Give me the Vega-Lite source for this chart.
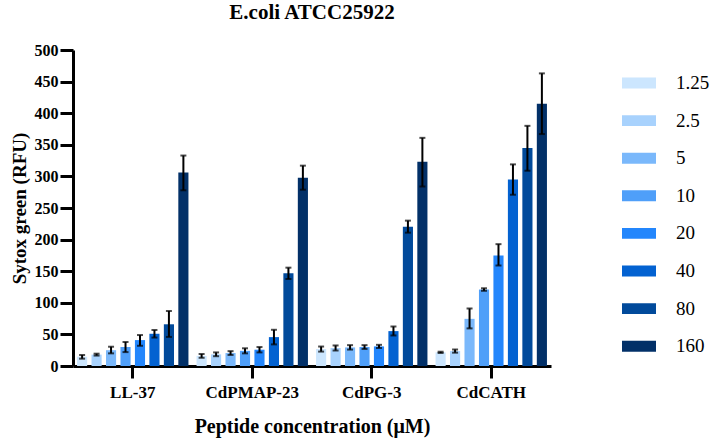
{
  "$schema": "https://vega.github.io/schema/vega-lite/v6.json",
  "width": 478,
  "height": 316,
  "autosize": {"type": "none"},
  "padding": {"left": 73, "top": 50, "right": 162, "bottom": 73},
  "background": "white",
  "title": {
    "text": "E.coli ATCC25922",
    "anchor": "middle",
    "offset": 19
  },
  "config": {
    "view": {"stroke": null},
    "font": "Liberation Serif",
    "title": {
      "font": "Liberation Serif",
      "fontSize": 21,
      "fontWeight": "bold",
      "color": "black"
    },
    "legend": {
      "labelFont": "Liberation Serif",
      "labelFontSize": 19,
      "labelColor": "black",
      "labelFontWeight": "normal"
    },
    "axis": {
      "labelFont": "Liberation Serif",
      "titleFont": "Liberation Serif",
      "labelColor": "black",
      "titleColor": "black",
      "domainColor": "black",
      "tickColor": "black",
      "domainWidth": 3,
      "tickWidth": 3,
      "grid": false,
      "labelFontWeight": "bold",
      "titleFontWeight": "bold"
    },
    "axisY": {
      "labelFontSize": 16,
      "titleFontSize": 19,
      "tickSize": 13,
      "labelPadding": 2,
      "titlePadding": 5,
      "labelOverlap": false
    }
  },
  "data": {
    "values": [
      {"peptide": "LL-37", "conc": "1.25", "value": 14.7, "lo": 11.6, "hi": 17.4},
      {"peptide": "LL-37", "conc": "2.5", "value": 18, "lo": 16.5, "hi": 19.5},
      {"peptide": "LL-37", "conc": "5", "value": 25, "lo": 20, "hi": 30.5},
      {"peptide": "LL-37", "conc": "10", "value": 30, "lo": 22, "hi": 38},
      {"peptide": "LL-37", "conc": "20", "value": 41, "lo": 32, "hi": 49},
      {"peptide": "LL-37", "conc": "40", "value": 51, "lo": 45, "hi": 57},
      {"peptide": "LL-37", "conc": "80", "value": 66, "lo": 46, "hi": 87},
      {"peptide": "LL-37", "conc": "160", "value": 306, "lo": 278, "hi": 333},
      {"peptide": "CdPMAP-23", "conc": "1.25", "value": 16, "lo": 13, "hi": 19},
      {"peptide": "CdPMAP-23", "conc": "2.5", "value": 18.4, "lo": 15.5, "hi": 21.5},
      {"peptide": "CdPMAP-23", "conc": "5", "value": 20.5, "lo": 17.5, "hi": 23.5},
      {"peptide": "CdPMAP-23", "conc": "10", "value": 24, "lo": 20, "hi": 28},
      {"peptide": "CdPMAP-23", "conc": "20", "value": 25.8, "lo": 21.5, "hi": 30},
      {"peptide": "CdPMAP-23", "conc": "40", "value": 45.7, "lo": 34.2, "hi": 57.3},
      {"peptide": "CdPMAP-23", "conc": "80", "value": 146.7, "lo": 137.7, "hi": 155.6},
      {"peptide": "CdPMAP-23", "conc": "160", "value": 298, "lo": 279, "hi": 317},
      {"peptide": "CdPG-3", "conc": "1.25", "value": 26.8, "lo": 22.8, "hi": 30.8},
      {"peptide": "CdPG-3", "conc": "2.5", "value": 28.4, "lo": 24.5, "hi": 32.5},
      {"peptide": "CdPG-3", "conc": "5", "value": 29.4, "lo": 26, "hi": 33},
      {"peptide": "CdPG-3", "conc": "10", "value": 30, "lo": 27, "hi": 33},
      {"peptide": "CdPG-3", "conc": "20", "value": 31, "lo": 28.5, "hi": 33.5},
      {"peptide": "CdPG-3", "conc": "40", "value": 55.2, "lo": 48.3, "hi": 62.5},
      {"peptide": "CdPG-3", "conc": "80", "value": 220.3, "lo": 211, "hi": 230},
      {"peptide": "CdPG-3", "conc": "160", "value": 323, "lo": 284, "hi": 361},
      {"peptide": "CdCATH", "conc": "1.25", "value": 21.6, "lo": 20.6, "hi": 22.6},
      {"peptide": "CdCATH", "conc": "2.5", "value": 23.6, "lo": 21.1, "hi": 26.1},
      {"peptide": "CdCATH", "conc": "5", "value": 74.6, "lo": 59.5, "hi": 91},
      {"peptide": "CdCATH", "conc": "10", "value": 121, "lo": 119, "hi": 123},
      {"peptide": "CdCATH", "conc": "20", "value": 175, "lo": 159, "hi": 192.8},
      {"peptide": "CdCATH", "conc": "40", "value": 295, "lo": 271, "hi": 319},
      {"peptide": "CdCATH", "conc": "80", "value": 345, "lo": 309, "hi": 380},
      {"peptide": "CdCATH", "conc": "160", "value": 415, "lo": 367, "hi": 463}
    ]
  },
  "encoding": {
    "x": {
      "field": "peptide",
      "type": "nominal",
      "sort": null,
      "scale": {"paddingInner": 0, "paddingOuter": 0},
      "axis": {
        "title": "Peptide concentration (μM)",
        "labelAngle": 0,
        "labelFontSize": 17,
        "titleFontSize": 20,
        "tickSize": 12,
        "labelPadding": 6,
        "titlePadding": 16
      }
    },
    "xOffset": {
      "field": "conc",
      "type": "nominal",
      "sort": ["1.25", "2.5", "5", "10", "20", "40", "80", "160"],
      "scale": {"paddingInner": 0.3, "paddingOuter": 0.28}
    }
  },
  "layer": [
    {
      "mark": {"type": "bar"},
      "encoding": {
        "y": {
          "field": "value",
          "type": "quantitative",
          "scale": {"domain": [0, 500], "nice": false},
          "axis": {
            "title": "Sytox green (RFU)",
            "values": [0, 50, 100, 150, 200, 250, 300, 350, 400, 450, 500]
          }
        },
        "color": {
          "field": "conc",
          "type": "nominal",
          "sort": ["1.25", "2.5", "5", "10", "20", "40", "80", "160"],
          "scale": {
            "domain": ["1.25", "2.5", "5", "10", "20", "40", "80", "160"],
            "range": ["#cce6fe", "#a8d2fd", "#7ab8fb", "#4f9ff9", "#2386fc", "#0362d1", "#014a9b", "#023068"]
          },
          "legend": {
            "title": null,
            "orient": "none",
            "legendX": 549,
            "legendY": 16,
            "padding": 0,
            "symbolType": "M-1,-0.32H1V0.32H-1Z",
            "symbolSize": 1156,
            "symbolStrokeWidth": 0,
            "labelOffset": 20,
            "rowPadding": 10.6
          }
        }
      }
    },
    {
      "mark": {"type": "rule", "color": "black", "strokeWidth": 2},
      "encoding": {
        "y": {
          "field": "lo",
          "type": "quantitative",
          "axis": {
            "title": "Sytox green (RFU)",
            "values": [0, 50, 100, 150, 200, 250, 300, 350, 400, 450, 500]
          }
        },
        "y2": {"field": "hi"}
      }
    },
    {
      "mark": {"type": "tick", "color": "black", "thickness": 2, "size": 6},
      "encoding": {
        "y": {
          "field": "lo",
          "type": "quantitative",
          "axis": {
            "title": "Sytox green (RFU)",
            "values": [0, 50, 100, 150, 200, 250, 300, 350, 400, 450, 500]
          }
        }
      }
    },
    {
      "mark": {"type": "tick", "color": "black", "thickness": 2, "size": 6},
      "encoding": {
        "y": {
          "field": "hi",
          "type": "quantitative",
          "axis": {
            "title": "Sytox green (RFU)",
            "values": [0, 50, 100, 150, 200, 250, 300, 350, 400, 450, 500]
          }
        }
      }
    }
  ]
}
